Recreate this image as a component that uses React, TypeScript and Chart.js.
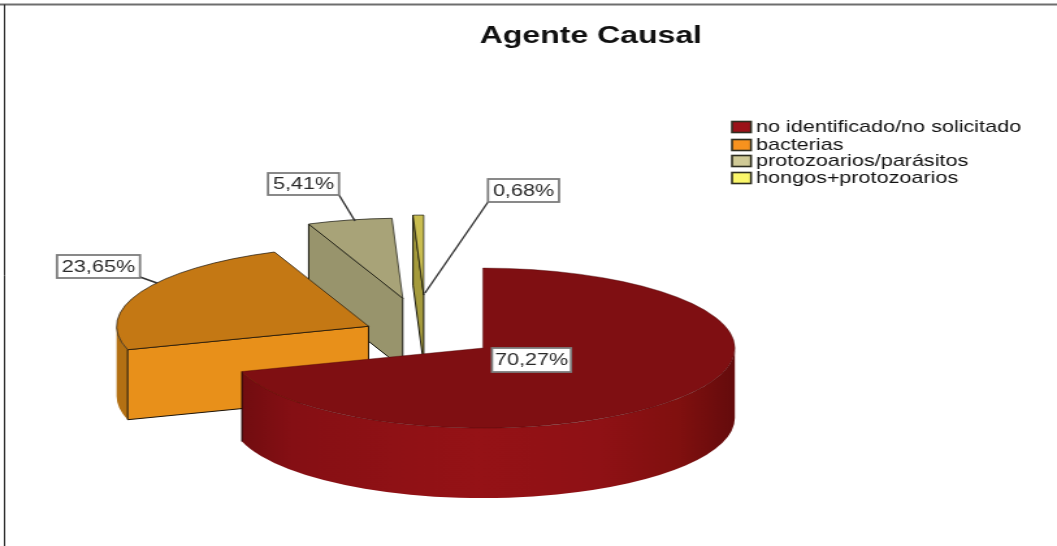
import React, { useEffect, useRef } from "react";
import { Chart, registerables } from "chart.js";

Chart.register(...registerables);

const categories = ["no identificado/no solicitado", "bacterias", "protozoarios/parásitos", "hongos+protozoarios"];
const shares = [70.27, 23.65, 5.41, 0.68];
const explode = [51.5, 51.5, 92.3, 97.7];
const explodeTilt = [0, 0, -0.008, -0.02];

const topColors = ["#7f0f12", "#c47814", "#a8a378", "#c9bd50"];
const sideColors = ["#8f1115", "#b37013", "#98946c", "#a59b3c"];
const faceColors = ["#8f1115", "#e8901a", "#98946c", "#a59b3c"];
const legendColors = ["#9b1218", "#f7921e", "#d0ca96", "#fbf76b"];
const edgeColors = ["rgba(70,8,8,0.55)", "#1a1208", "#14140c", "#14140c"];

// screen-space layout of the value labels: box left, top, right, bottom; leader end
const labelBoxes = [
  [492, 348, 571, 372],
  [57, 255, 140, 278],
  [268, 173, 339, 195],
  [488, 179, 559, 202],
];
const leaders = [null, [140, 277, 157, 283], [339, 195, 355, 221], [488, 202, 425, 293]];
const legendRows = [127, 145, 161, 178];

const W = 813;
const H = 546;
const SX = 1057 / W;
const CX = 429 / SX;
const CY = 335.4;
const R = 252 / SX;
const K = 80 / R;
const DEPTH = 70;
const FONT = '16.6px "Liberation Sans"';

const pie3d = {
  id: "pie3d",
  beforeDraw(chart: any) {
    const c = chart.ctx;
    c.save();
    c.fillStyle = "#ffffff";
    c.fillRect(0, 0, W, H);
    c.strokeStyle = "#6e6e6e";
    c.lineWidth = 2;
    c.beginPath();
    c.moveTo(0, 4.5);
    c.lineTo(W, 4.5);
    c.stroke();
    c.strokeStyle = "#222222";
    c.lineWidth = 1;
    c.beginPath();
    c.moveTo(3.5, 4.5);
    c.lineTo(3.5, H);
    c.stroke();
    c.restore();
  },
  beforeDatasetsDraw(chart: any) {
    const c = chart.ctx;
    const arcs = chart.getDatasetMeta(0).data;
    for (let i = arcs.length - 1; i >= 0; i--) {
      const arc = arcs[i];
      const a = arc.startAngle;
      const b = arc.endAngle;
      const r = arc.outerRadius;
      const mid = (a + b) / 2 + explodeTilt[i];
      const px = CX + Math.cos(mid) * explode[i];
      const py = CY + Math.sin(mid) * explode[i] * K;

      // outer wall: only the part of the rim on the near half of the ellipse
      c.save();
      const wallFrom = Math.max(a, 0);
      const wallTo = Math.min(b, Math.PI);
      if (wallTo > wallFrom) {
        c.beginPath();
        c.ellipse(px, py, r, r * K, 0, wallFrom, wallTo);
        c.ellipse(px, py + DEPTH, r, r * K, 0, wallTo, wallFrom, true);
        c.closePath();
        if (i === 0) {
          const g = c.createLinearGradient(px - r, 0, px + r, 0);
          g.addColorStop(0, "#6d0c0f");
          g.addColorStop(0.12, "#850f14");
          g.addColorStop(0.32, "#8f1115");
          g.addColorStop(0.49, "#951216");
          g.addColorStop(0.73, "#8f1115");
          g.addColorStop(0.89, "#80100f");
          g.addColorStop(1, "#640b0c");
          c.fillStyle = g;
        } else {
          c.fillStyle = sideColors[i];
        }
        c.fill();
      }

      // cut faces that look towards the viewer
      const face = (t: number) => {
        const rimX = px + r * Math.cos(t);
        const rimY = py + r * K * Math.sin(t);
        c.beginPath();
        c.moveTo(px, py);
        c.lineTo(rimX, rimY);
        c.lineTo(rimX, rimY + DEPTH);
        c.lineTo(px, py + DEPTH);
        c.closePath();
        c.fillStyle = faceColors[i];
        c.fill();
        c.strokeStyle = edgeColors[i];
        c.lineWidth = 1;
        c.stroke();
      };
      if (-Math.cos(a) > 0.01) face(a);
      if (Math.cos(b) > 0.01) face(b);

      if (i === 0) {
        const ex = px + r * Math.cos(b);
        const ey = py + r * K * Math.sin(b);
        c.strokeStyle = "#1a0505";
        c.lineWidth = 1;
        c.beginPath();
        c.moveTo(ex, ey);
        c.lineTo(ex, ey + DEPTH);
        c.stroke();
      }
      c.restore();

      // top face, drawn by the library's arc element under a squash
      c.save();
      c.translate(px, py);
      c.scale(1, K);
      c.translate(-arc.x, -arc.y);
      arc.draw(c);
      c.restore();
    }
    return false;
  },
  afterDraw(chart: any) {
    const c = chart.ctx;
    c.save();
    // legend
    c.font = FONT;
    c.textBaseline = "middle";
    c.textAlign = "left";
    categories.forEach((name, i) => {
      const y = legendRows[i];
      c.fillStyle = legendColors[i];
      c.fillRect(732 / SX, y - 5.5, 19 / SX, 11);
      c.strokeStyle = "#2e2e20";
      c.lineWidth = 1.6;
      c.strokeRect(732 / SX, y - 5.5, 19 / SX, 11);
      c.fillStyle = "#111111";
      c.fillText(name, 756 / SX, y + 0.5);
    });
    // value labels
    shares.forEach((v, i) => {
      const l = leaders[i];
      if (l) {
        c.strokeStyle = "#333333";
        c.lineWidth = 1.4;
        c.beginPath();
        c.moveTo(l[0] / SX, l[1]);
        c.lineTo(l[2] / SX, l[3]);
        c.stroke();
      }
      const [x0, y0, x1, y1] = labelBoxes[i];
      c.fillStyle = "#ffffff";
      c.fillRect(x0 / SX, y0, (x1 - x0) / SX, y1 - y0);
      c.strokeStyle = "#7d7d7d";
      c.lineWidth = 1.8;
      c.strokeRect(x0 / SX, y0, (x1 - x0) / SX, y1 - y0);
      c.fillStyle = "#2a2a2a";
      c.textAlign = "center";
      c.fillText(v.toFixed(2).replace(".", ",") + "%", (x0 + x1) / 2 / SX, (y0 + y1) / 2 + 0.5);
    });
    c.restore();
  },
};

export default function App() {
  const ref = useRef<HTMLCanvasElement | null>(null);
  useEffect(() => {
    const chart = new Chart(ref.current as HTMLCanvasElement, {
      type: "pie",
      data: {
        labels: categories,
        datasets: [
          {
            data: shares,
            backgroundColor: topColors,
            borderColor: edgeColors,
            borderWidth: 1,
          },
        ],
      },
      options: {
        responsive: false,
        animation: false,
        radius: R,
        layout: { padding: { left: 96, top: 21 } },
        events: [],
        plugins: {
          legend: { display: false },
          tooltip: { enabled: false },
          title: {
            display: true,
            text: "Agente Causal",
            color: "#111111",
            padding: 0,
            font: { family: '"Liberation Sans"', size: 24.6, weight: "bold" },
          },
        },
      } as any,
      plugins: [pie3d as any],
    });
    return () => chart.destroy();
  }, []);
  return (
    <canvas
      ref={ref}
      width={W}
      height={H}
      style={{
        position: "fixed",
        left: 0,
        top: 0,
        width: W,
        height: H,
        transformOrigin: "0 0",
        transform: `scaleX(${SX})`,
      }}
    />
  );
}
